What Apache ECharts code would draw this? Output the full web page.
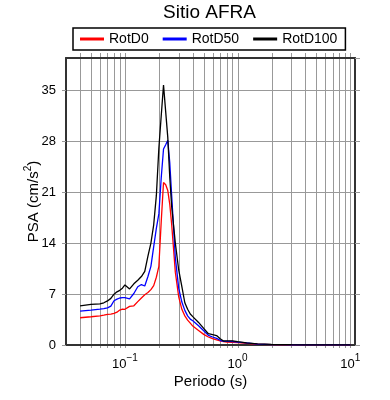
<!DOCTYPE html>
<html><head><meta charset="utf-8">
<script src="https://cdn.jsdelivr.net/npm/echarts@6/dist/echarts.min.js"></script>
<style>html,body{margin:0;padding:0;background:#fff}#c{width:390px;height:400px}</style>
</head><body><div id="c"></div>
<script>
const periods = [0.04,0.05,0.06,0.065,0.07,0.075,0.08,0.085,0.09,0.095,
  0.1,0.11,0.12,0.13,0.14,0.15,0.16,0.17,0.18,0.19,
  0.2,0.21,0.22,0.23,0.24,0.25,0.26,0.28,0.3,0.32,
  0.34,0.36,0.38,0.4,0.45,0.5,0.55,0.6,0.65,0.7,
  0.75,0.8,0.9,1.0,1.2,1.5,2,2.5,3,4,
  5,6,7.5,10];
const rotD0 = [3.74,3.88,4.0,4.1,4.2,4.25,4.34,4.5,4.8,4.93,
  4.9,5.3,5.38,5.95,6.45,6.9,7.2,7.6,8.15,9.3,
  10.8,17.0,22.3,22.0,21.2,19.3,16.5,10.0,6.6,4.9,
  4.0,3.42,3.0,2.6,2.0,1.46,1.1,0.88,0.72,0.57,
  0.45,0.4,0.38,0.33,0.22,0.1,0.05,0.03,0.02,0.015,
  0.01,0.01,0.008,0.005];
const rotD50 = [4.65,4.8,4.93,5.0,5.1,5.34,6.07,6.3,6.45,6.5,
  6.5,6.34,7.07,8.0,8.3,8.1,9.4,10.8,13.5,16.0,
  18.0,23.0,26.9,27.5,28.1,25.0,20.5,12.0,7.8,5.9,
  4.75,4.0,3.55,3.33,2.65,1.96,1.33,1.1,0.9,0.65,
  0.5,0.5,0.48,0.4,0.28,0.13,0.06,0.04,0.025,0.02,
  0.015,0.012,0.01,0.008];
const rotD100 = [5.38,5.57,5.65,5.8,6.05,6.4,6.98,7.3,7.5,7.8,
  8.25,7.7,8.4,8.9,9.4,10.1,12.2,14.0,16.5,20.5,
  27.0,31.5,35.7,32.0,28.5,23.0,19.0,14.0,10.3,8.0,
  5.8,4.9,4.25,3.9,3.1,2.28,1.55,1.42,1.3,0.85,
  0.55,0.58,0.58,0.45,0.3,0.15,0.08,0.05,0.04,0.03,
  0.02,0.02,0.015,0.01];
const seriesNames = ['RotD0','RotD50','RotD100'];
const gridPeriods = [0.04,0.05,0.06,0.07,0.08,0.09,
  0.1,0.2,0.3,0.4,0.5,0.6,0.7,0.8,0.9,
  1,2,3,4,5,6,7,8,9,10];
const X_MIN = 0.03, X_MAX = 11;
const Y_MIN = 0, Y_MAX = 39.4, Y_STEP = 7;

const FONT = 'Liberation Sans';
const FRAME = '#333';
const GRIDC = '#999';
const chart = echarts.init(document.getElementById('c'), null, {renderer: 'canvas'});
function pairs(v) { return periods.map((p, i) => [p, v[i]]); }
function supLabel(v) {
  const l = Math.log10(v), e = Math.round(l);
  if (Math.abs(l - e) > 1e-6) return '';
  return '{b|10}{s|' + (e < 0 ? '\u2212' + (-e) : '' + e) + '}';
}
const option = {
  animation: false,
  title: {text: 'Sitio AFRA', left: 163, top: 3, padding: 0,
    textStyle: {fontFamily: FONT, fontSize: 19, fontWeight: 'normal', color: '#000'}},
  legend: {left: 73, top: 28, padding: [4, 8, 4, 7], itemWidth: 24, itemHeight: 3, itemGap: 14,
    icon: 'rect', borderColor: '#000', borderWidth: 1.5, borderRadius: 0,
    textStyle: {fontFamily: FONT, fontSize: 14, color: '#000'}, data: seriesNames},
  grid: {left: 66, right: 35, top: 58, bottom: 55},
  xAxis: [{
    type: 'log', min: X_MIN, max: X_MAX,
    axisLine: {show: true, onZero: false, lineStyle: {color: FRAME, width: 2}},
    axisTick: {show: false}, splitLine: {show: false},
    axisLabel: {formatter: supLabel, margin: 8, showMinLabel: false, showMaxLabel: false,
      rich: {b: {fontFamily: FONT, fontSize: 13, color: '#000', lineHeight: 18, verticalAlign: 'bottom'},
             s: {fontFamily: FONT, fontSize: 10, color: '#000', verticalAlign: 'top'}}},
    name: 'Periodo (s)', nameLocation: 'middle', nameGap: 29, nameMoveOverlap: false,
    nameTextStyle: {fontFamily: FONT, fontSize: 15, color: '#000'}
  }, {
    type: 'log', position: 'top', min: X_MIN, max: X_MAX,
    axisLine: {show: true, onZero: false, lineStyle: {color: FRAME, width: 2}},
    axisTick: {show: false}, axisLabel: {show: false}, splitLine: {show: false}
  }],
  yAxis: [{
    type: 'value', min: Y_MIN, max: Y_MAX, interval: Y_STEP,
    axisLine: {show: true, lineStyle: {color: FRAME, width: 2}},
    axisTick: {show: true, length: 4, lineStyle: {color: GRIDC, width: 1}},
    axisLabel: {fontFamily: FONT, fontSize: 13, color: '#000', margin: 10, showMaxLabel: false},
    splitLine: {show: true, lineStyle: {color: GRIDC, width: 1}},
    name: '{a|PSA (cm/s}{s|2}{a|)}', nameLocation: 'middle', nameGap: 25, nameMoveOverlap: false,
    nameTextStyle: {rich: {a: {fontFamily: FONT, fontSize: 15, color: '#000', lineHeight: 18, verticalAlign: 'bottom'},
                           s: {fontFamily: FONT, fontSize: 10, color: '#000', verticalAlign: 'top'}}}
  }, {
    type: 'value', position: 'right', min: Y_MIN, max: Y_MAX, interval: Y_STEP,
    axisLine: {show: true, lineStyle: {color: FRAME, width: 2}},
    axisTick: {show: true, length: 5, lineStyle: {color: GRIDC, width: 1}},
    axisLabel: {show: false}, splitLine: {show: false}
  }],
  series: [{
    type: 'custom', silent: true, z: -1, clip: false,
    xAxisIndex: 0, yAxisIndex: 0,
    data: gridPeriods.map(p => [p, Y_MIN]), encode: {x: 0, y: 1},
    renderItem: function (params, api) {
      const t = api.coord([api.value(0), Y_MAX]);
      const b = api.coord([api.value(0), Y_MIN]);
      const x = Math.round(t[0]) + 0.5;
      return {type: 'line', shape: {x1: x, y1: t[1] - 5, x2: x, y2: b[1] + 3},
        style: {stroke: GRIDC, lineWidth: 1}};
    }
  },
  {name: seriesNames[0], type: 'line', data: pairs(rotD0), showSymbol: false, symbol: 'none',
    lineStyle: {color: '#ff0000', width: 1.3}, itemStyle: {color: '#ff0000'}},
  {name: seriesNames[1], type: 'line', data: pairs(rotD50), showSymbol: false, symbol: 'none',
    lineStyle: {color: '#0000ff', width: 1.3}, itemStyle: {color: '#0000ff'}},
  {name: seriesNames[2], type: 'line', data: pairs(rotD100), showSymbol: false, symbol: 'none',
    lineStyle: {color: '#000000', width: 1.3}, itemStyle: {color: '#000000'}}
  ]
};
chart.setOption(option);
</script></body></html>
